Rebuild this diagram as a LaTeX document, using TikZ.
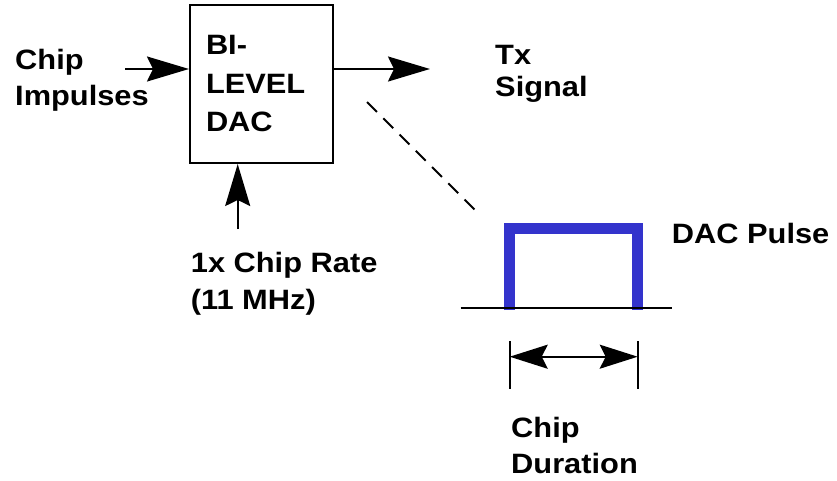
\documentclass[tikz,border=0pt]{standalone}
\usepackage{fontspec}
\setmainfont{Liberation Sans}[FakeStretch=1.1]
\usepackage{tikz}
\usetikzlibrary{calc,shapes,positioning}
\usetikzlibrary{arrows.meta}
\tikzset{>={Stealth[length=42pt,width=25pt,inset=6pt]}}
\definecolor{pulseblue}{RGB}{51,51,204}

\begin{document}
\begin{tikzpicture}[x=1pt,y=-1pt]
      \tikzstyle{bnode} = [draw, line width=2pt, rectangle, inner xsep=16pt, inner ysep=0pt, minimum width=143pt, minimum height=158pt, text width=111pt, align=left, font=\fontsize{28}{38.5}\selectfont\bfseries]
      \tikzstyle{lnode} = [anchor=north west, inner sep=0pt, align=left, font=\fontsize{28}{36}\selectfont\bfseries]
      \tikzstyle{wire} = [line width=2pt]
      \tikzstyle{pulse} = [line width=10.5pt, draw=pulseblue, line join=miter]

      \useasboundingbox (0,0) rectangle (837,480);

      \node[bnode] (dac) at (261.5,84) {BI-\\LEVEL\\DAC};
      \node[lnode] (chip) at (15,49) {Chip\\Impulses};
      \node[lnode, font=\fontsize{28}{32}\selectfont\bfseries] (tx) at (495,45) {Tx\\Signal};
      \node[lnode, font=\fontsize{28}{37}\selectfont\bfseries] (rate) at (190.7,251.7) {1x Chip Rate\\(11 MHz)};
      \node[lnode] (lpulse) at (671.7,223) {DAC Pulse};
      \node[lnode] (dur) at (511,417) {Chip\\Duration};

      \coordinate (in) at (125,69);
      \coordinate (out) at (430,69);
      \coordinate (clk) at (237.7,229);
      \coordinate (d1) at (367,102);
      \coordinate (d2) at (477,212);
      \coordinate (p1) at (509.7,310);
      \coordinate (p2) at (637.7,310);
      \coordinate (t1) at (509.7,341);
      \coordinate (t2) at (637.7,341);

      \draw[wire, ->] (in) -- (in -| dac.west);
      \draw[wire, ->] (out -| dac.east) -- (out);
      \draw[wire, ->] (clk) -- (clk |- dac.south);
      \draw[wire, dash pattern=on 14pt off 9pt] (d1) -- (d2);

      % pulse
      \draw[pulse] (p1) -- ($(p1)+(0,-81.7)$) -- ($(p2)+(0,-81.7)$) -- (p2);
      \draw[wire] (460.7,307.7) -- (671.7,307.7);

      % chip duration
      \draw[wire] (t1) -- ++(0,48);
      \draw[wire] (t2) -- ++(0,48);
      \draw[wire, {Stealth[length=38pt,width=24pt,inset=6pt]}-{Stealth[length=38pt,width=24pt,inset=6pt]}] ($(t1)+(0,15.7)$) -- ($(t2)+(0,15.7)$);
    \end{tikzpicture}
\end{document}
